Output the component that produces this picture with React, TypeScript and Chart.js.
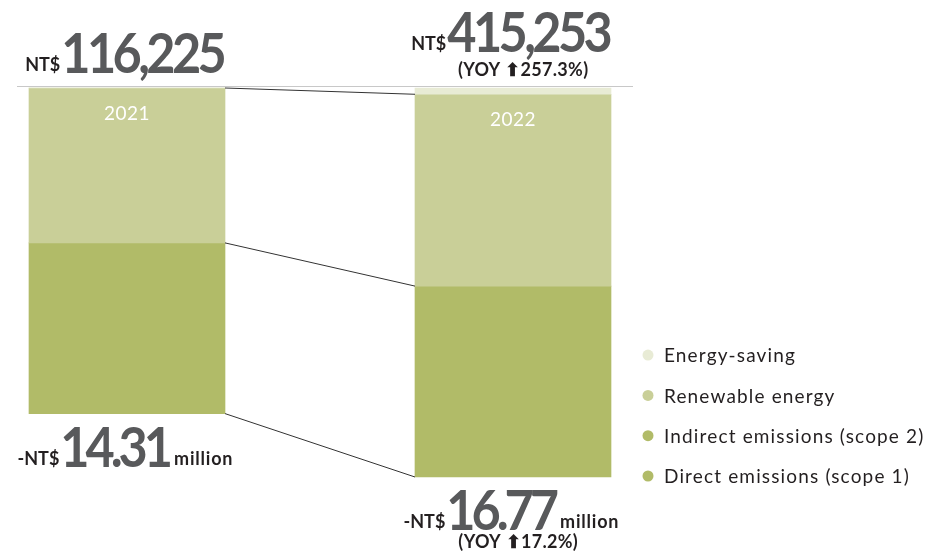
import React, { useEffect, useRef } from 'react';
import { Chart, registerables } from 'chart.js';

Chart.register(...registerables);

// ---- data ----
const years = ['2021', '2022'];
// segment lengths, in NT$ million of the bar scale
const energySaving = [0, 0.27];
const renewable = [6.67, 8.26];
const emissions = [7.35, 8.22];
const topTotals = ['116,225', '415,253'];
const topYoy = ['', '257.3%'];
const bottomTotals = ['14.31', '16.77'];
const bottomYoy = ['', '17.2%'];
const legendLabels = [
  'Energy-saving',
  'Renewable energy',
  'Indirect emissions (scope 2)',
  'Direct emissions (scope 1)',
];

const COLORS = {
  saving: '#e8ebd5',
  renewable: '#c9cf98',
  emissions: '#b1bb68',
};
const legendColors = [COLORS.saving, COLORS.renewable, COLORS.emissions, COLORS.emissions];

const DARK = '#231f20';
const GREY_NUM = '#58595b';
const FONT = 'Lato, "Open Sans", sans-serif';

type Part = { text: string; font: string; color: string; ls: number; dy: number; gap: number; sx?: number };

function drawGroup(ctx: CanvasRenderingContext2D, parts: Part[], cx: number, baseline: number) {
  const widths = parts.map((p) => {
    ctx.font = p.font;
    (ctx as any).letterSpacing = p.ls + 'px';
    const sx = p.sx ?? 1;
    return (ctx.measureText(p.text).width - p.ls) * sx;
  });
  const total = widths.reduce((a, b) => a + b, 0) + parts.reduce((a, p) => a + p.gap, 0);
  let x = cx - total / 2;
  ctx.textAlign = 'left';
  ctx.textBaseline = 'alphabetic';
  parts.forEach((p, k) => {
    x += p.gap;
    ctx.font = p.font;
    (ctx as any).letterSpacing = p.ls + 'px';
    ctx.fillStyle = p.color;
    ctx.save();
    ctx.translate(x, baseline + p.dy);
    ctx.scale(p.sx ?? 1, 1);
    ctx.fillText(p.text, 0, 0);
    ctx.restore();
    x += widths[k];
  });
  (ctx as any).letterSpacing = '0px';
}

const annotPlugin = {
  id: 'annot',
  afterDatasetsDraw(chart: any) {
    const ctx: CanvasRenderingContext2D = chart.ctx;
    const m0 = chart.getDatasetMeta(0);
    const m1 = chart.getDatasetMeta(1);
    const m2 = chart.getDatasetMeta(2);
    const area = chart.chartArea;
    const bars = years.map((_, i) => {
      const el = m1.data[i];
      const half = el.width / 2;
      return {
        cx: el.x,
        left: el.x - half,
        right: el.x + half,
        top: m0.data[i].base,
        renTop: m1.data[i].base,
        emTop: m2.data[i].base,
        bottom: m2.data[i].y,
      };
    });
    ctx.save();

    // thin grey rule above the bars
    ctx.strokeStyle = '#c8c8c8';
    ctx.lineWidth = 1;
    const ry = Math.round(area.top) - 1.5;
    ctx.beginPath();
    ctx.moveTo(bars[0].left - 12, ry);
    ctx.lineTo(bars[1].right + 22, ry);
    ctx.stroke();

    // connector lines between the two bars
    const a = bars[0];
    const b = bars[1];
    ctx.strokeStyle = '#333333';
    ctx.lineWidth = 1;
    [
      [a.renTop, b.renTop],
      [a.emTop, b.emTop],
      [a.bottom, b.bottom],
    ].forEach(([y1, y2]) => {
      ctx.beginPath();
      ctx.moveTo(a.right, y1);
      ctx.lineTo(b.left, y2);
      ctx.stroke();
    });

    // year labels inside bars
    ctx.fillStyle = '#ffffff';
    ctx.font = `19px ${FONT}`;
    (ctx as any).letterSpacing = '0.5px';
    ctx.textAlign = 'center';
    ctx.textBaseline = 'middle';
    bars.forEach((bar, i) => {
      ctx.fillText(years[i], bar.cx, bar.renTop + 26);
    });
    (ctx as any).letterSpacing = '0px';

    // totals
    const small = `bold 18px ${FONT}`;
    const big = `bold 56px ${FONT}`;
    const yoyFont = `bold 18px ${FONT}`;
    bars.forEach((bar, i) => {
      const hasTopYoy = !!topYoy[i];
      const topBase = bar.top - 15 - (hasTopYoy ? 21 : 0);
      drawGroup(
        ctx,
        [
          { text: 'NT$', font: small, color: DARK, ls: 0, dy: -2, gap: 0 },
          { text: topTotals[i], font: big, color: GREY_NUM, ls: -4, dy: 0, gap: 1, sx: 0.9 },
        ],
        bar.cx - 1,
        topBase
      );
      if (hasTopYoy) {
        drawGroup(
          ctx,
          [{ text: `(YOY \u2B06${topYoy[i]})`, font: yoyFont, color: DARK, ls: 0.3, dy: 0, gap: 0 }],
          bar.cx + 10,
          bar.top - 12
        );
      }
      drawGroup(
        ctx,
        [
          { text: '-NT$', font: small, color: DARK, ls: 0, dy: -2, gap: 0 },
          { text: bottomTotals[i], font: big, color: GREY_NUM, ls: -4.5, dy: 0, gap: 1, sx: 0.9 },
          { text: 'million', font: small, color: DARK, ls: 0.8, dy: -2, gap: 1 },
        ],
        bar.cx - 2,
        bar.bottom + 53
      );
      if (bottomYoy[i]) {
        drawGroup(
          ctx,
          [{ text: `(YOY \u2B06${bottomYoy[i]})`, font: yoyFont, color: DARK, ls: 0.3, dy: 0, gap: 0 }],
          bar.cx + 5,
          bar.bottom + 71
        );
      }
    });

    // legend
    ctx.textAlign = 'left';
    ctx.textBaseline = 'middle';
    ctx.font = `19px ${FONT}`;
    (ctx as any).letterSpacing = '1.15px';
    legendLabels.forEach((label, i) => {
      const y = area.bottom - 1 - (legendLabels.length - 1 - i) * 40.3;
      ctx.fillStyle = legendColors[i];
      ctx.beginPath();
      ctx.arc(648, y, 5.5, 0, Math.PI * 2);
      ctx.fill();
      ctx.fillStyle = DARK;
      ctx.fillText(label, 664, y + 1);
    });
    (ctx as any).letterSpacing = '0px';

    ctx.restore();
  },
};

export default function App() {
  const ref = useRef<HTMLCanvasElement | null>(null);
  useEffect(() => {
    if (!ref.current) return;
    const totals = years.map((_, i) => energySaving[i] + renewable[i] + emissions[i]);
    const chart = new Chart(ref.current, {
      type: 'bar',
      data: {
        labels: years,
        datasets: [
          { label: 'Energy-saving', data: energySaving, backgroundColor: COLORS.saving },
          { label: 'Renewable energy', data: renewable, backgroundColor: COLORS.renewable },
          { label: 'Emissions (scope 1 + 2)', data: emissions, backgroundColor: COLORS.emissions },
        ],
      },
      options: {
        responsive: false,
        animation: false,
        layout: { padding: { left: 127, right: 428, top: 88, bottom: 76 } },
        datasets: { bar: { barThickness: 196, borderWidth: 0, clip: false as any } } as any,
        plugins: { legend: { display: false }, tooltip: { enabled: false } },
        scales: {
          x: { type: 'category', display: false, offset: false, stacked: true, grid: { display: false } },
          y: { display: false, stacked: true, reverse: true, min: 0, max: Math.max(...totals) },
        },
      },
      plugins: [annotPlugin],
    });
    return () => chart.destroy();
  }, []);
  return (
    <div style={{ position: 'absolute', left: 0, top: 0, width: 941, height: 553, background: '#fff' }}>
      <canvas ref={ref} width={941} height={553} style={{ display: 'block' }} />
    </div>
  );
}
